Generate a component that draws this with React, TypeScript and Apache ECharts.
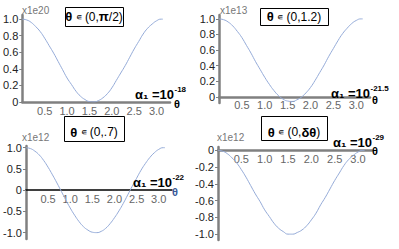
import React, { useEffect, useRef } from "react";
import * as echarts from "echarts";

const theta = [0, 0.1, 0.2, 0.3, 0.4, 0.5, 0.6, 0.7, 0.8, 0.9, 1.0, 1.1, 1.2, 1.3, 1.4, 1.5, 1.6, 1.7, 1.8, 1.9, 2.0, 2.1, 2.2, 2.3, 2.4, 2.5, 2.6, 2.7, 2.8, 2.9, 3.0, 3.1, 3.14];
const curveA = [1.0, 0.99, 0.96, 0.91, 0.85, 0.77, 0.68, 0.59, 0.49, 0.39, 0.29, 0.21, 0.13, 0.07, 0.03, 0.005, 0.001, 0.017, 0.05, 0.1, 0.17, 0.26, 0.35, 0.44, 0.54, 0.64, 0.73, 0.82, 0.89, 0.94, 0.98, 1.0, 1.0];
const curveB = [1.0, 0.99, 0.96, 0.91, 0.84, 0.76, 0.66, 0.56, 0.45, 0.35, 0.25, 0.16, 0.08, 0.015, -0.03, -0.055, -0.06, -0.04, -0.005, 0.05, 0.12, 0.21, 0.31, 0.41, 0.52, 0.62, 0.72, 0.81, 0.88, 0.94, 0.98, 1.0, 1.0];
const curveC = [1.0, 0.98, 0.92, 0.83, 0.7, 0.54, 0.36, 0.17, -0.03, -0.23, -0.42, -0.59, -0.74, -0.86, -0.94, -0.99, -1.0, -0.97, -0.9, -0.79, -0.65, -0.49, -0.31, -0.11, 0.09, 0.28, 0.47, 0.63, 0.77, 0.88, 0.96, 1.0, 1.0];
const curveD = [0, -0.01, -0.04, -0.09, -0.15, -0.23, -0.32, -0.42, -0.52, -0.61, -0.71, -0.79, -0.87, -0.93, -0.97, -1.0, -1.0, -0.98, -0.95, -0.9, -0.83, -0.75, -0.65, -0.56, -0.46, -0.36, -0.27, -0.18, -0.11, -0.06, -0.02, 0, 0];

const xTicks = [0.5, 1.0, 1.5, 2.0, 2.5, 3.0];
const yTicksA = [0, 0.2, 0.4, 0.6, 0.8, 1.0];
const yTicksB = [0, 0.2, 0.4, 0.6, 0.8, 1.0];
const yTicksC = [-1.0, -0.5, 0, 0.5, 1.0];
const yTicksD = [-1.0, -0.8, -0.6, -0.4, -0.2, 0];

const scaleLabels = ["x1e20", "x1e13", "x1e12", "x1e12"];
const alphaExps = ["-18", "-21.5", "-22", "-29"];

const FONT = "'Liberation Sans', Arial, sans-serif";
const CURVE = "#95abd8";

export default function App() {
  const ref = useRef<HTMLDivElement>(null);
  useEffect(() => {
    if (!ref.current) return;
    const chart = echarts.init(ref.current, undefined, { renderer: "svg" });

    const panels = [
      { grid: { left: 22, top: 15, width: 148, height: 87 }, yMin: 0, yMax: 1.05, data: curveA, yTicks: yTicksA, xColor: "#808080", xWidth: 2.5 },
      { grid: { left: 219, top: 15, width: 151, height: 88 }, yMin: -0.08, yMax: 1.05, data: curveB, yTicks: yTicksB, xColor: "#808080", xWidth: 2.5 },
      { grid: { left: 22, top: 146, width: 150, height: 93 }, yMin: -1.15, yMax: 1.04, data: curveC, yTicks: yTicksC, xColor: "#000", xWidth: 1.5 },
      { grid: { left: 218, top: 147, width: 154, height: 93 }, yMin: -1.07, yMax: 0.04, data: curveD, yTicks: yTicksD, xColor: "#808080", xWidth: 2.5 },
    ];

    const fmt = (v: number) => (Math.abs(v) < 1e-9 ? "0" : v.toFixed(1));

    const grids = panels.map((p) => ({ ...p.grid }));
    const xAxes = panels.map((p, i) => {
      const h = p.grid.height;
      const zeroFromBottom = (h * (0 - p.yMin)) / (p.yMax - p.yMin);
      return {
        type: "value",
        gridIndex: i,
        min: 0,
        max: 3.3,
        position: "bottom",
        offset: -zeroFromBottom,
        axisLine: { show: true, onZero: false, lineStyle: { color: p.xColor, width: p.xWidth } },
        axisTick: { show: false },
        splitLine: { show: false },
        axisLabel: {
          customValues: xTicks,
          formatter: fmt,
          fontFamily: FONT,
          fontSize: 11,
          color: "#666",
          margin: 3,
        },
      };
    });
    const yAxes = panels.map((p, i) => ({
      type: "value",
      gridIndex: i,
      min: p.yMin,
      max: p.yMax,
      axisLine: { show: true, onZero: false, lineStyle: { color: "#808080", width: 2.5 } },
      axisTick: { show: true, customValues: p.yTicks, length: 3, lineStyle: { color: "#808080" } },
      splitLine: { show: false },
      axisLabel: {
        customValues: p.yTicks,
        formatter: fmt,
        fontFamily: FONT,
        fontSize: 11,
        color: "#222",
        margin: 4,
      },
    }));
    const series = panels.map((p, i) => ({
      type: "line",
      xAxisIndex: i,
      yAxisIndex: i,
      data: theta.map((t, k) => [t, p.data[k]]),
      smooth: true,
      showSymbol: false,
      lineStyle: { color: CURVE, width: 1 },
      z: 1,
    }));

    const titleRich = {
      b: { fontWeight: "bold", fontSize: 13, fontFamily: FONT, fill: "#000" },
      n: { fontSize: 12, fontFamily: FONT, fill: "#000" },
      s: { fontSize: 9, fontFamily: FONT, fill: "#000" },
    };
    const titles = [
      { x: 65, y: 7, w: 58, h: 19, text: "{b|θ} {s|∊} {n|(0,}{b|π}{n|/2)}" },
      { x: 260, y: 8, w: 68, h: 17, text: "{b|θ} {s|∊} {n|(0,1.2)}" },
      { x: 64, y: 116, w: 60, h: 25, text: "{b|θ} {s|∊} {n|(0,.7)}" },
      { x: 261, y: 116, w: 66, h: 24, text: "{b|θ} {s|∊} {n|(0,}{b|δθ}{n|)}" },
    ];
    const titleY = [16.5, 16.5, 132, 132];
    const alphaPos = [
      { x: 174, y: 94, sy: 89 },
      { x: 370, y: 93, sy: 88 },
      { x: 172, y: 182, sy: 177 },
      { x: 372, y: 142, sy: 137 },
    ];
    const thetaPos = [
      { x: 177, y: 104, c: "#000" },
      { x: 375, y: 100, c: "#000" },
      { x: 175, y: 192, c: "#3a5a9a" },
      { x: 375, y: 151, c: "#000" },
    ];
    const scalePos = [
      { x: 22, y: 10 },
      { x: 220, y: 10 },
      { x: 22, y: 137 },
      { x: 217, y: 137 },
    ];

    const graphic: any[] = [];
    titles.forEach((t, i) => {
      graphic.push({
        type: "rect",
        z: 100,
        shape: { x: t.x + 0.5, y: t.y + 0.5, width: t.w, height: t.h },
        style: { fill: "#fff", stroke: "#000", lineWidth: 1 },
      });
      graphic.push({
        type: "text",
        z: 101,
        x: t.x + t.w / 2,
        y: titleY[i],
        style: { text: t.text, rich: titleRich, align: "center", verticalAlign: "middle" },
      });
    });
    alphaPos.forEach((a, i) => {
      graphic.push({
        type: "text",
        z: 100,
        x: a.x,
        y: a.y,
        style: { text: "α₁ =10", fontFamily: FONT, fontWeight: "bold", fontSize: 13, fill: "#000", align: "right", verticalAlign: "middle" },
      });
      graphic.push({
        type: "text",
        z: 100,
        x: a.x + 0.5,
        y: a.sy,
        style: { text: alphaExps[i], fontFamily: FONT, fontWeight: "bold", fontSize: 8, fill: "#000", align: "left", verticalAlign: "middle" },
      });
    });
    thetaPos.forEach((t) => {
      graphic.push({
        type: "text",
        z: 100,
        x: t.x,
        y: t.y,
        style: { text: "θ", fontFamily: FONT, fontWeight: "bold", fontSize: 11, fill: t.c, align: "center", verticalAlign: "middle" },
      });
    });
    scalePos.forEach((s, i) => {
      graphic.push({
        type: "text",
        z: 100,
        x: s.x,
        y: s.y,
        style: { text: scaleLabels[i], fontFamily: FONT, fontSize: 10, fill: "#777", align: "left", verticalAlign: "middle" },
      });
    });

    chart.setOption({
      animation: false,
      backgroundColor: "#fff",
      grid: grids,
      xAxis: xAxes,
      yAxis: yAxes,
      series,
      graphic,
    } as any);
    return () => chart.dispose();
  }, []);
  return <div ref={ref} style={{ position: "fixed", left: 0, top: 0, width: 399, height: 249 }} />;
}
